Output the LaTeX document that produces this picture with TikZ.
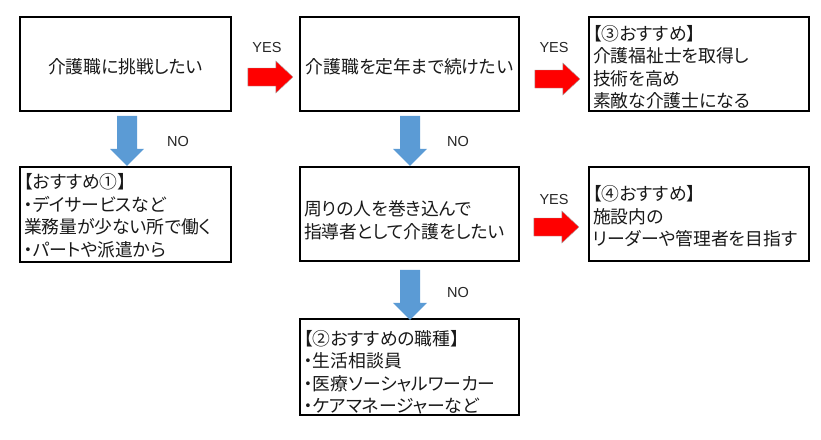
\documentclass[tikz,border=0pt]{standalone}
\usepackage{fontspec}
\usetikzlibrary{calc}
\newfontfamily\jp[RawFeature=+palt]{Noto Sans CJK JP}
\newfontfamily\lat{Liberation Sans}
\definecolor{bluearr}{HTML}{5B9BD5}
\newcommand\lift[1]{\rule{0pt}{#1pt}}
\begin{document}
\begin{tikzpicture}[x=1pt,y=-1pt,
  box/.style={draw=black, line width=1.8pt, minimum height=94pt, inner sep=0pt,
    font=\jp\fontsize{17.8}{22.6}\selectfont, text=black!90},
  cbox/.style={box, align=center},
  lbox/.style={box, align=left, inner xsep=4pt},
  lab/.style={font=\lat\fontsize{14.5}{16}\selectfont, text=black!85},
  rarr/.pic={\fill[red, draw=black!35, line width=0.4pt]
     (0,-9) -- (28,-9) -- (28,-16) -- (45,0) -- (28,16) -- (28,9) -- (0,9) -- cycle;},
  barr/.pic={\fill[bluearr]
     (-10,0) -- (10,0) -- (10,33) -- (17,33) -- (0,50) -- (-17,33) -- (-10,33) -- cycle;}
]
\useasboundingbox[fill=white] (0,0) rectangle (821,439);

\node[cbox, minimum width=211pt] (a) at (125.5,64) {\lift{20}介護職に挑戦したい};
\node[cbox, minimum width=219pt] (b) at (409.5,64) {\lift{20}介護職を定年まで続けたい};
\node[lbox, text width=212pt, minimum height=94pt] (c) at (699,64)
  {\lift{21.5}【③おすすめ】\\介護福祉士を取得し\\技術を高め\\素敵な介護士になる};
\node[lbox, text width=203pt, minimum height=95pt] (d) at (125.5,214.5)
  {\lift{17.5}【おすすめ①】\\・デイサービスなど\\業務量が少ない所で働く\\・パートや派遣から};
\node[lbox, text width=211pt] (e) at (409.5,214)
  {\lift{27.5}周りの人を巻き込んで\\指導者として介護をしたい};
\node[lbox, text width=212pt] (f) at (699,214)
  {\lift{19.5}【④おすすめ】\\施設内の\\リーダーや管理者を目指す};
\node[lbox, text width=211pt, minimum height=96pt] (g) at (409.5,367)
  {\lift{25.5}【②おすすめの職種】\\・生活相談員\\・医療ソーシャルワーカー\\・ケアマネージャーなど};

% YES arrows
\pic at ($(a.east)+(16,13)$) {rarr};
\pic at ($(b.east)+(15,15)$) {rarr};
\pic at ($(e.east)+(14,13)$) {rarr};
% NO arrows
\pic at ($(a.south)+(1.5,4)$) {barr};
\pic at ($(b.south)+(0.5,4)$) {barr};
\pic at ($(e.south)+(0.5,8)$) {barr};

\node[lab] (y1) at (267,48) {YES};
\node[lab] (y2) at (554,48) {YES};
\node[lab] (y3) at (554,200) {YES};
\node[lab] (n1) at (178,142) {NO};
\node[lab] (n2) at (458,142) {NO};
\node[lab] (n3) at (458,293) {NO};
\end{tikzpicture}
\end{document}
